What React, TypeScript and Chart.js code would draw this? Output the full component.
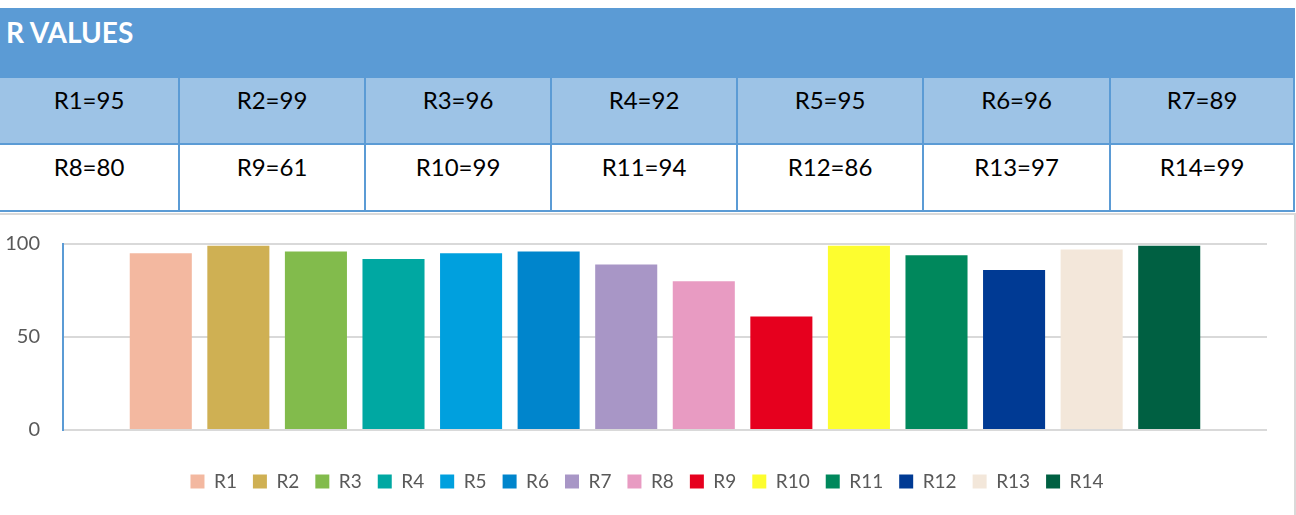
import React, { useEffect, useRef } from "react";
import { Chart, registerables } from "chart.js";

Chart.register(...registerables);

const seriesNames = ["R1", "R2", "R3", "R4", "R5", "R6", "R7", "R8", "R9", "R10", "R11", "R12", "R13", "R14"];
const seriesValues = [95, 99, 96, 92, 95, 96, 89, 80, 61, 99, 94, 86, 97, 99];
const seriesColors = [
  "#F3B8A0", "#CFB053", "#82BB4C", "#00A8A2", "#00A0DE", "#0085CC", "#A896C6",
  "#E89BC2", "#E6001E", "#FDFD2F", "#00885C", "#003A94", "#F3E7DA", "#006042",
];
const yTicks = [0, 50, 100];
const title = "R VALUES";

const FONT = "Lato, 'Open Sans', sans-serif";
const BLUE = "#5B9BD5";
const LIGHT = "#9DC3E6";

function ChartBox() {
  const ref = useRef<HTMLCanvasElement | null>(null);
  useEffect(() => {
    if (!ref.current) return;
    const chart = new Chart(ref.current, {
      type: "bar",
      data: {
        labels: [""],
        datasets: seriesNames.map((n, i) => ({
          label: n,
          data: [seriesValues[i]],
          backgroundColor: seriesColors[i],
          borderWidth: 0,
          categoryPercentage: 0.902,
          barPercentage: 0.8,
        })),
      },
      options: {
        animation: false,
        responsive: false,
        maintainAspectRatio: false,
        layout: { padding: { top: 29, right: 0, bottom: 14, left: 0 } },
        plugins: {
          tooltip: { enabled: false },
          legend: {
            position: "bottom",
            labels: {
              boxWidth: 14,
              boxHeight: 14,
              padding: 16,
              color: "#595959",
              font: { family: FONT, size: 19 },
            },
          },
        },
        scales: {
          x: {
            ticks: { display: false },
            grid: { display: false, drawTicks: false },
            border: { display: false },
            afterFit: (s: any) => {
              s.height = 26;
            },
          },
          y: {
            min: 0,
            max: 100,
            afterBuildTicks: (s: any) => {
              s.ticks = yTicks.map((v) => ({ value: v }));
            },
            ticks: {
              color: "#595959",
              font: { family: FONT, size: 20 },
              padding: 23,
            },
            grid: { color: "#D9D9D9", lineWidth: 2, drawTicks: false },
            border: { display: true, color: BLUE, width: 2 },
            afterFit: (s: any) => {
              s.width = 63;
              s.paddingTop = 0;
              s.paddingBottom = 0;
            },
          },
          yRight: {
            position: "right",
            display: true,
            min: 0,
            max: 100,
            ticks: { display: false },
            grid: { display: false, drawTicks: false },
            border: { display: false },
            afterFit: (s: any) => {
              s.width = 27;
              s.paddingTop = 0;
              s.paddingBottom = 0;
            },
          },
        },
      },
    });
    return () => chart.destroy();
  }, []);
  return <canvas ref={ref} width={1294} height={300} style={{ display: "block" }} />;
}

const rows = [seriesNames.slice(0, 7), seriesNames.slice(7, 14)];

export default function App() {
  const colLefts = [0, 180, 366, 552, 738, 924, 1111];
  const colRights = [178, 364, 550, 736, 922, 1109, 1293];
  return (
    <div
      style={{
        position: "absolute",
        left: 0,
        top: 0,
        width: 1296,
        height: 515,
        background: "#fff",
        fontFamily: FONT,
        overflow: "hidden",
      }}
    >
      <div
        style={{
          position: "absolute",
          left: 0,
          top: 8,
          width: 1295,
          height: 70,
          background: BLUE,
          color: "#fff",
          fontWeight: 700,
          fontSize: 28,
          lineHeight: 1.2,
          paddingTop: 8,
          paddingLeft: 6,
          boxSizing: "border-box",
        }}
      >
        {title}
      </div>
      {rows.map((r, ri) => {
        const top = ri === 0 ? 78 : 145;
        return (
          <div key={ri}>
            <div
              style={{
                position: "absolute",
                left: 0,
                top: top,
                width: 1295,
                height: 67,
                background: ri === 0 ? LIGHT : "#fff",
                borderBottom: `2px solid ${BLUE}`,
                borderRight: `2px solid ${BLUE}`,
                boxSizing: "border-box",
              }}
            />
            {r.map((name, ci) => (
              <div
                key={name}
                style={{
                  position: "absolute",
                  left: colLefts[ci],
                  top: top,
                  width: colRights[ci] - colLefts[ci] + (ci < 6 ? 2 : 0),
                  height: 65,
                  borderRight: ci < 6 ? `2px solid ${BLUE}` : "none",
                  textAlign: "center",
                  fontSize: 24,
                  lineHeight: 1.2,
                  paddingTop: 8,
                  color: "#000",
                  boxSizing: "border-box",
                }}
              >
                {`${name}=${seriesValues[seriesNames.indexOf(name)]}`}
              </div>
            ))}
          </div>
        );
      })}
      <div
        style={{
          position: "absolute",
          left: 0,
          top: 213,
          width: 1296,
          height: 302,
          borderTop: "2px solid #D9D9D9",
          borderRight: "2px solid #D9D9D9",
          boxSizing: "border-box",
        }}
      >
        <ChartBox />
      </div>
    </div>
  );
}
